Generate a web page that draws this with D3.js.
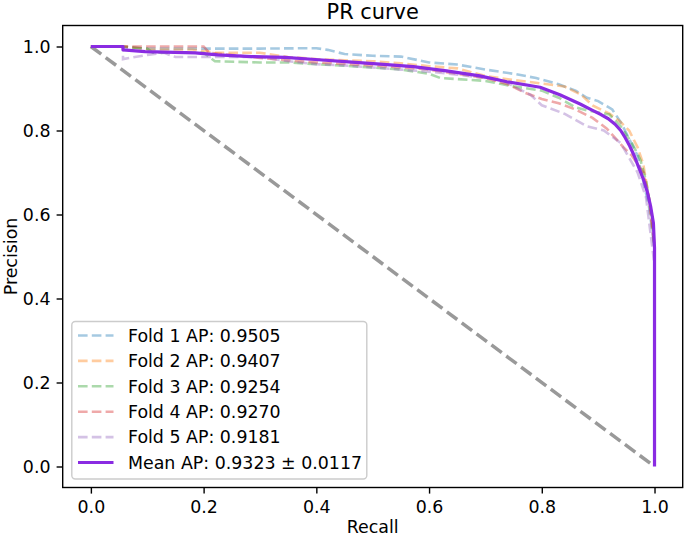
<!DOCTYPE html>
<html>
<head>
<meta charset="utf-8">
<script src="https://cdn.jsdelivr.net/npm/d3@7"></script>
<style>
  html, body { margin: 0; padding: 0; background: #fff; }
  svg { display: block; font-family: "DejaVu Sans", sans-serif; }
</style>
</head>
<body>
<svg id="chart" width="685" height="538"></svg>
<script>
// ---------- data ----------
const title = "PR curve";
const xLabel = "Recall";
const yLabel = "Precision";
const tickValues = [0.0, 0.2, 0.4, 0.6, 0.8, 1.0];

const fold1Recall    = [0, 0.05, 0.10, 0.20, 0.30, 0.40, 0.42, 0.45, 0.50, 0.55, 0.60, 0.65, 0.70, 0.75, 0.79, 0.83, 0.86, 0.88, 0.90, 0.925, 0.94, 0.955, 0.97, 0.98, 0.99, 1.0];
const fold1Precision = [1, 1, 0.995, 0.995, 0.995, 0.996, 0.992, 0.982, 0.978, 0.976, 0.962, 0.957, 0.945, 0.935, 0.925, 0.91, 0.895, 0.878, 0.87, 0.85, 0.82, 0.78, 0.74, 0.68, 0.62, 0.52];

const fold2Recall    = [0, 0.06, 0.10, 0.18, 0.22, 0.30, 0.35, 0.40, 0.45, 0.50, 0.55, 0.60, 0.65, 0.70, 0.75, 0.80, 0.84, 0.87, 0.89, 0.92, 0.94, 0.955, 0.97, 0.98, 0.99, 1.0];
const fold2Precision = [1, 1, 0.993, 0.993, 0.985, 0.985, 0.975, 0.97, 0.967, 0.965, 0.96, 0.953, 0.948, 0.93, 0.92, 0.912, 0.905, 0.885, 0.86, 0.84, 0.82, 0.80, 0.76, 0.72, 0.64, 0.53];

const fold3Recall    = [0, 0.05, 0.10, 0.11, 0.20, 0.22, 0.30, 0.35, 0.40, 0.50, 0.55, 0.60, 0.62, 0.70, 0.75, 0.80, 0.83, 0.86, 0.88, 0.92, 0.94, 0.96, 0.975, 0.985, 0.995, 1.0];
const fold3Precision = [1, 1, 0.995, 0.985, 0.985, 0.965, 0.962, 0.962, 0.958, 0.95, 0.945, 0.935, 0.925, 0.918, 0.905, 0.895, 0.878, 0.855, 0.848, 0.838, 0.81, 0.77, 0.73, 0.68, 0.60, 0.51];

const fold4Recall    = [0, 0.05, 0.10, 0.20, 0.21, 0.30, 0.35, 0.40, 0.50, 0.55, 0.60, 0.65, 0.70, 0.74, 0.77, 0.80, 0.83, 0.86, 0.89, 0.915, 0.945, 0.96, 0.98, 0.99, 1.0];
const fold4Precision = [1, 1, 1, 1, 0.985, 0.973, 0.967, 0.962, 0.955, 0.95, 0.945, 0.935, 0.925, 0.91, 0.89, 0.875, 0.865, 0.85, 0.83, 0.805, 0.76, 0.74, 0.70, 0.64, 0.52];

const fold5Recall    = [0, 0.057, 0.057, 0.10, 0.13, 0.15, 0.20, 0.30, 0.35, 0.40, 0.45, 0.50, 0.55, 0.60, 0.65, 0.70, 0.73, 0.75, 0.78, 0.80, 0.84, 0.88, 0.91, 0.94, 0.97, 0.985, 1.0];
const fold5Precision = [1, 1, 0.97, 0.98, 0.985, 0.975, 0.975, 0.975, 0.965, 0.958, 0.955, 0.95, 0.945, 0.94, 0.933, 0.925, 0.92, 0.905, 0.885, 0.86, 0.84, 0.81, 0.80, 0.77, 0.70, 0.64, 0.48];

const meanRecall    = [0, 0.057, 0.057, 0.096, 0.185, 0.225, 0.285, 0.344, 0.398, 0.463, 0.513, 0.572, 0.631, 0.69, 0.738, 0.797, 0.832, 0.868, 0.89, 0.905, 0.918, 0.93, 0.94, 0.948, 0.956, 0.964, 0.972, 0.98, 0.987, 0.993, 0.998, 1.0, 1.0];
const meanPrecision = [1, 1, 0.992, 0.988, 0.985, 0.98, 0.976, 0.974, 0.969, 0.963, 0.958, 0.952, 0.942, 0.93, 0.916, 0.903, 0.885, 0.863, 0.848, 0.838, 0.828, 0.815, 0.8, 0.783, 0.763, 0.74, 0.712, 0.685, 0.655, 0.62, 0.58, 0.52, 0];

const diagRecall = [0, 1];
const diagPrecision = [1, 0];

const foldLabels = ["Fold 1 AP: 0.9505", "Fold 2 AP: 0.9407", "Fold 3 AP: 0.9254", "Fold 4 AP: 0.9270", "Fold 5 AP: 0.9181"];
const meanLabel = "Mean AP: 0.9323 \u00B1 0.0117";
const foldColors = ["#1f77b4", "#ff7f0e", "#2ca02c", "#d62728", "#9467bd"];
const meanColor = "#8a2be2";

// ---------- layout ----------
const L = 62.7, R = 682.7, T = 25.5, B = 487.5;
const fs = 17.4;

const x = d3.scaleLinear().domain([-0.05, 1.05]).range([L, R]);
const y = d3.scaleLinear().domain([-0.05, 1.05]).range([B, T]);

const svg = d3.select("#chart");

const folds = [
  [fold1Recall, fold1Precision],
  [fold2Recall, fold2Precision],
  [fold3Recall, fold3Precision],
  [fold4Recall, fold4Precision],
  [fold5Recall, fold5Precision]
];

const line = d3.line().x(d => x(d[0])).y(d => y(d[1]));
const zip = (a, b) => a.map((v, i) => [v, b[i]]);

// diagonal
svg.append("path")
  .attr("d", line(zip(diagRecall, diagPrecision)))
  .attr("fill", "none")
  .attr("stroke", "gray")
  .attr("stroke-opacity", 0.8)
  .attr("stroke-width", 3.5)
  .attr("stroke-dasharray", "12.9,5.6");

// folds
folds.forEach((f, i) => {
  svg.append("path")
    .attr("d", line(zip(f[0], f[1])))
    .attr("fill", "none")
    .attr("stroke", foldColors[i])
    .attr("stroke-opacity", 0.4)
    .attr("stroke-width", 2.6)
    .attr("stroke-dasharray", "9.6,4.2");
});

// mean
svg.append("path")
  .attr("d", line(zip(meanRecall, meanPrecision)))
  .attr("fill", "none")
  .attr("stroke", meanColor)
  .attr("stroke-width", 3.2)
  .attr("stroke-linejoin", "round");

// axes
const xAxis = d3.axisBottom(x).tickValues(tickValues).tickFormat(d3.format(".1f")).tickSize(6.1).tickPadding(6.1);
const yAxis = d3.axisLeft(y).tickValues(tickValues).tickFormat(d3.format(".1f")).tickSize(6.1).tickPadding(6.1);

const gx = svg.append("g").attr("transform", `translate(0,${B})`).call(xAxis);
const gy = svg.append("g").attr("transform", `translate(${L},0)`).call(yAxis);
[gx, gy].forEach(g => {
  g.select(".domain").remove();
  g.selectAll(".tick line").attr("stroke", "#000").attr("stroke-width", 1.4);
  g.selectAll(".tick text").attr("fill", "#000").style("font-size", fs + "px").style("font-family", "DejaVu Sans");
});
gx.selectAll(".tick text").attr("dy", null).attr("y", 0).attr("transform", "translate(0,25.5)");
gy.selectAll(".tick text").attr("dy", "0.36em");

// frame
svg.append("rect")
  .attr("x", L).attr("y", T).attr("width", R - L).attr("height", B - T)
  .attr("fill", "none").attr("stroke", "#000").attr("stroke-width", 1.4);

// title & labels
svg.append("text").attr("x", (L + R) / 2).attr("y", 19).attr("text-anchor", "middle")
  .style("font-size", "20.9px").text(title);
svg.append("text").attr("x", (L + R) / 2).attr("y", 533).attr("text-anchor", "middle")
  .style("font-size", fs + "px").text(xLabel);
svg.append("text").attr("transform", `translate(17,${(T + B) / 2}) rotate(-90)`).attr("text-anchor", "middle")
  .style("font-size", fs + "px").text(yLabel);

// legend
const lgX = 71.8, lgY = 321.5, lgW = 295, lgH = 157.5;
svg.append("rect").attr("x", lgX).attr("y", lgY).attr("width", lgW).attr("height", lgH)
  .attr("rx", 3.5).attr("ry", 3.5)
  .attr("fill", "#fff").attr("fill-opacity", 0.8)
  .attr("stroke", "#cccccc").attr("stroke-width", 1.4);

const rowY0 = 335.5, rowStep = 25.4;
const labels = foldLabels.concat([meanLabel]);
labels.forEach((lab, i) => {
  const yy = rowY0 + i * rowStep;
  const isMean = i === 5;
  svg.append("line").attr("x1", 78).attr("x2", 113.5).attr("y1", yy).attr("y2", yy)
    .attr("stroke", isMean ? meanColor : foldColors[i])
    .attr("stroke-opacity", isMean ? 1 : 0.4)
    .attr("stroke-width", isMean ? 3.2 : 2.6)
    .attr("stroke-dasharray", isMean ? null : "9.6,4.2");
  svg.append("text").attr("x", 128).attr("y", yy).attr("dy", "0.36em")
    .style("font-size", fs + "px").text(lab);
});
</script>
</body>
</html>
